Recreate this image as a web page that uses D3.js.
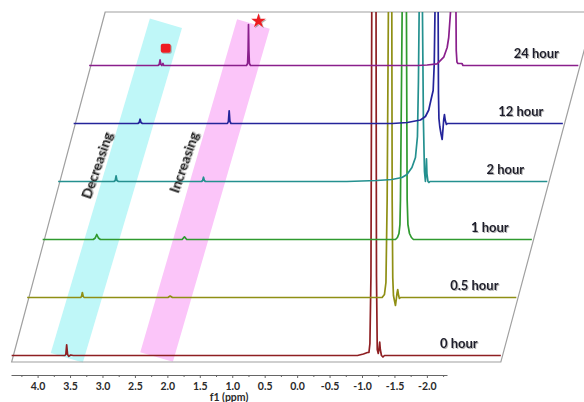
<!DOCTYPE html>
<html>
<head>
<meta charset="utf-8">
<script src="https://cdn.jsdelivr.net/npm/d3@7"></script>
<style>
  body { margin: 0; background: #fff; }
  svg { display: block; font-family: Lato, "Open Sans", sans-serif; }
</style>
</head>
<body>
<svg id="chart"></svg>
<script>
var w = 584;
var h = 402;

// spectra, one per time point: [ppm, intensity]
var traceLabels = ["0 hour", "0.5 hour", "1 hour", "2 hour", "12 hour", "24 hour"];
var traceColors = ["#8e1f22", "#8f8f14", "#2f9a2f", "#24908f", "#24249a", "#8a1f8c"];

var trace0h = [
  [4.40, 0], [3.58, 0], [3.565, 1], [3.552, 10.7], [3.538, 1], [3.52, -0.8], [3.49, 0.5], [3.45, 0],
  [-0.93, 0], [-1.022, 1.5], [-1.084, 3], [-1.107, 3], [-1.122, 12], [-1.138, 80], [-1.153, 400],
  [-1.184, 3000], [-1.215, 400], [-1.223, 80], [-1.235, 6], [-1.251, 2], [-1.264, 8], [-1.273, 13.3],
  [-1.282, 6], [-1.300, 0], [-1.323, -1.5], [-1.346, 0], [-3.14, 0]
];
var trace05h = [
  [4.40, 0], [3.575, 0], [3.562, 1], [3.549, 5], [3.536, 1], [3.52, 0],
  [2.23, 0], [2.196, 1.5], [2.16, 0],
  [-1.071, 0], [-1.107, 3], [-1.130, 15], [-1.149, 99], [-1.169, 300], [-1.195, 2000], [-1.220, 300],
  [-1.226, 99], [-1.235, 20], [-1.246, 2], [-1.261, -3], [-1.277, -8], [-1.289, -2], [-1.300, 4],
  [-1.312, 8], [-1.325, 2], [-1.338, -1], [-1.354, 0], [-3.14, 0]
];
var trace1h = [
  [4.40, 0], [3.62, 0], [3.59, 1.5], [3.566, 5], [3.54, 1.5], [3.51, 0],
  [2.25, 0], [2.214, 2.7], [2.18, 0],
  [-1.038, 0], [-1.068, 2], [-1.092, 6], [-1.107, 15], [-1.115, 40], [-1.141, 228], [-1.176, 3000],
  [-1.207, 228], [-1.218, 40], [-1.230, 15], [-1.254, 6], [-1.284, 2], [-1.315, 0], [-3.14, 0]
];
var trace2h = [
  [4.40, 0], [3.54, 0], [3.52, 1], [3.507, 5.7], [3.494, 1], [3.47, 0],
  [2.19, 0], [2.173, 1], [2.160, 4.3], [2.147, 1], [2.13, 0],
  [-0.05, 0], [-0.513, 1], [-0.744, 2], [-0.899, 4], [-0.976, 7], [-1.053, 14], [-1.107, 24],
  [-1.138, 45], [-1.153, 100], [-1.164, 169], [-1.192, 3000], [-1.215, 169], [-1.230, 60],
  [-1.246, 10], [-1.261, 0], [-1.269, 10], [-1.277, 22.7], [-1.284, 8], [-1.300, 0], [-1.315, -1],
  [-1.331, 0], [-3.14, 0]
];
var trace12h = [
  [4.40, 0], [3.41, 0], [3.39, 1], [3.376, 4.3], [3.362, 1], [3.34, 0],
  [2.03, 0], [2.015, 2], [2.003, 12.7], [1.991, 2], [1.975, 0],
  [-0.513, 0], [-0.744, 1], [-0.945, 3.5], [-1.022, 7], [-1.073, 13.5], [-1.107, 23.5], [-1.141, 33],
  [-1.158, 60], [-1.169, 111.5], [-1.192, 3000], [-1.218, 111.5], [-1.223, 30], [-1.230, 5],
  [-1.243, -3], [-1.261, -10], [-1.280, -16], [-1.292, -6], [-1.304, 4], [-1.315, 9], [-1.328, 3],
  [-1.346, -1], [-1.362, 0], [-3.14, 0]
];
var trace24h = [
  [4.40, 0], [3.34, 0], [3.32, 1], [3.307, 5.7], [3.294, 1], [3.28, 0], [3.262, 2], [3.25, 0],
  [1.975, 0], [1.958, 2], [1.950, 15], [1.944, 41], [1.938, 15], [1.930, 2], [1.913, 0],
  [-0.667, 0], [-0.809, 0.5], [-0.963, 1.7], [-1.065, 8.3], [-1.118, 18], [-1.142, 28], [-1.169, 53],
  [-1.207, 300], [-1.254, 53], [-1.258, 15], [-1.269, 3.5], [-1.284, 2], [-1.346, 2], [-1.362, 0],
  [-3.14, 0]
];
var traces = [trace0h, trace05h, trace1h, trace2h, trace12h, trace24h];

// annotated peaks on the 24 hour trace
var squarePeak = [3.307, 5.7];
var starPeak = [1.944, 41];

var majorTicks = [4.0, 3.5, 3.0, 2.5, 2.0, 1.5, 1.0, 0.5, 0.0, -0.5, -1.0, -1.5, -2.0];
var minorTicks = [4.25, 3.75, 3.25, 2.75, 2.25, 1.75, 1.25, 0.75, 0.25, -0.25, -0.75, -1.25, -1.75, -2.25];

var svg = d3.select("#chart").attr("width", w).attr("height", h);

var x = d3.scaleLinear().domain([4.41, -2.31]).range([11, 447]);
var baseY = d3.scalePoint().domain(traceLabels).range([355.5, 65.5]);
var shiftX = d3.scalePoint().domain(traceLabels).range([0, 77.5]);
var amp = d3.scaleLinear().domain([0, 100]).range([0, 100]);
var skew = 77.5 / 290;

var defs = svg.append("defs");
defs.append("clipPath").attr("id", "clip")
  .append("rect").attr("x", 0).attr("y", 12).attr("width", w).attr("height", h);
var shadow = defs.append("filter").attr("id", "shadow")
  .attr("x", "-20%").attr("y", "-20%").attr("width", "140%").attr("height", "140%");
shadow.append("feDropShadow").attr("dx", 1).attr("dy", 1).attr("stdDeviation", 0.7)
  .attr("flood-color", "#777").attr("flood-opacity", 0.55);

// highlight bands
function band(cx, cy, bw, len, angle, color) {
  svg.append("rect")
    .attr("x", -bw / 2).attr("y", -len / 2)
    .attr("width", bw).attr("height", len)
    .attr("transform", "translate(" + cx + "," + cy + ") rotate(" + angle + ")")
    .style("fill", color);
}
band(x(2.786), 190.5, 33.5, 349, 16.5, "#bff7f8");
band(x(1.42), 190.5, 34, 347, 16.2, "#fbc5f9");

// skewed frame
var fBottom = 362, fTop = 12;
var xl = x(4.40), xr = x(-3.14);
svg.append("path")
  .attr("d", "M" + (xl + (fBottom - fTop) * skew) + "," + fTop +
             "L" + xl + "," + fBottom + "L" + xr + "," + fBottom +
             "L" + (xr + (fBottom - fTop) * skew) + "," + fTop + "Z")
  .style("fill", "none").style("stroke", "#a0a0a0").style("stroke-width", 1.2);

var plot = svg.append("g").attr("clip-path", "url(#clip)");
traces.forEach(function (data, i) {
  var lab = traceLabels[i];
  var line = d3.line()
    .x(d => x(d[0]) + shiftX(lab))
    .y(d => baseY(lab) - amp(d[1]));
  plot.append("path")
    .datum(data)
    .attr("d", line)
    .style("fill", "none")
    .style("stroke", traceColors[i])
    .style("stroke-width", 1.7)
    .style("stroke-linejoin", "round");
});

// time labels
svg.selectAll(".tlabel")
  .data(traceLabels)
  .enter().append("text")
  .attr("class", "tlabel")
  .attr("x", d => x(-3.14) + shiftX(d) - 42)
  .attr("y", d => baseY(d) - 13)
  .attr("text-anchor", "middle")
  .attr("dominant-baseline", "central")
  .attr("filter", "url(#shadow)")
  .style("font-size", "13px").style("font-weight", "bold").style("fill", "#1c1c2a")
  .text(d => d);

// band captions
[["Decreasing", 96, 165], ["Increasing", 183, 162]].forEach(function (t) {
  svg.append("text")
    .attr("transform", "translate(" + t[1] + "," + t[2] + ") rotate(-71)")
    .attr("text-anchor", "middle")
    .attr("dominant-baseline", "central")
    .attr("filter", "url(#shadow)")
    .style("font-size", "14px").style("font-weight", "bold").style("fill", "#1a1a1a")
    .text(t[0]);
});

// markers above peaks of the 24 hour trace
var top24 = traceLabels[5];
svg.append("rect")
  .attr("x", x(squarePeak[0]) + shiftX(top24) + 0.7)
  .attr("y", baseY(top24) - amp(squarePeak[1]) - 16)
  .attr("width", 10).attr("height", 9).attr("rx", 2)
  .attr("filter", "url(#shadow)")
  .style("fill", "#ee1c24");
svg.append("path")
  .attr("d", d3.symbol(d3.symbolStar).size(66))
  .attr("transform", "translate(" + (x(starPeak[0]) + shiftX(top24) + 10) + "," +
        (baseY(top24) - amp(starPeak[1]) - 3.5) + ")")
  .attr("filter", "url(#shadow)")
  .style("fill", "#ee1c24");

// axis
var fmt = d => d.toFixed(1);
var axisG = svg.append("g").attr("transform", "translate(0,375)");
axisG.call(d3.axisBottom(x).tickValues(majorTicks).tickSize(3).tickSizeOuter(0).tickPadding(5).tickFormat(fmt));
axisG.append("g").call(d3.axisBottom(x).tickValues(minorTicks).tickSize(2).tickSizeOuter(0).tickFormat(""))
  .select(".domain").remove();
axisG.selectAll("path, line").style("stroke", "#666");
axisG.selectAll("text")
  .style("font-family", "Lato, sans-serif").style("font-size", "10.5px")
  .style("font-weight", "bold").style("fill", "#2a2a2a");

svg.append("text")
  .attr("x", (x.range()[0] + x.range()[1]) / 2)
  .attr("y", 401)
  .attr("text-anchor", "middle")
  .style("font-size", "10.5px").style("font-weight", "bold").style("fill", "#2a2a2a")
  .text("f1 (ppm)");
</script>
</body>
</html>
